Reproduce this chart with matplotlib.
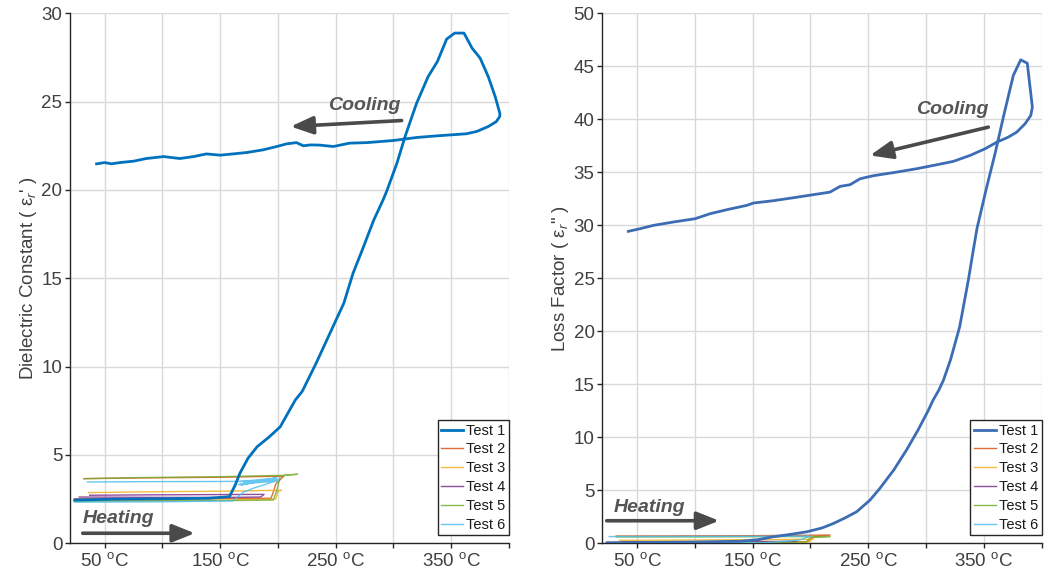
import matplotlib
matplotlib.use("Agg")
import matplotlib.pyplot as plt

plt.rcParams['font.family'] = ['Liberation Sans', 'DejaVu Sans']
plt.rcParams['mathtext.fontset'] = 'custom'
plt.rcParams['mathtext.rm'] = 'Liberation Sans'
plt.rcParams['mathtext.it'] = 'Liberation Sans:italic'
plt.rcParams['mathtext.bf'] = 'Liberation Sans:bold'

# ---------------- Dielectric constant (eps_r') ----------------
dc_t1_temp = [24, 60, 100, 140, 158, 163, 167, 174, 182, 192, 202, 208, 215, 221, 233, 249, 257,
              265, 273, 283, 291, 294, 303, 310, 320, 330, 338, 346, 353, 361, 368, 375, 382,
              388, 392, 392,
              389, 382, 372, 363, 350, 337, 320, 300, 277, 262, 248, 236, 228, 222, 216, 207.5,
              199, 187, 173, 161, 150, 138, 127, 115, 101, 86, 75, 63, 56, 50, 43]
dc_t1_val = [2.45, 2.5, 2.52, 2.55, 2.64, 3.3, 3.96, 4.81, 5.47, 6.0, 6.6, 7.3, 8.11, 8.6, 10.19,
             12.46, 13.59, 15.29, 16.61, 18.31, 19.44, 19.91, 21.52, 23.02, 24.91, 26.42, 27.27,
             28.54, 28.88, 28.88, 28.03, 27.46, 26.42, 25.29, 24.35, 24.16,
             23.87, 23.59, 23.31, 23.18, 23.12, 23.06, 22.97, 22.80, 22.68, 22.65, 22.46, 22.54,
             22.55, 22.50, 22.68, 22.61, 22.46, 22.27, 22.12, 22.04, 21.97, 22.04, 21.89, 21.78,
             21.89, 21.78, 21.63, 21.55, 21.48, 21.55, 21.48]

dc_t2_temp = [24, 100, 160, 194, 196, 198, 205, 150, 80, 32]
dc_t2_val = [2.52, 2.53, 2.54, 2.55, 2.9, 3.35, 3.8, 3.74, 3.7, 3.66]

dc_t3_temp = [25, 100, 160, 198, 200, 203, 150, 80, 36]
dc_t3_val = [2.42, 2.44, 2.46, 2.5, 2.95, 3.0, 2.95, 2.91, 2.87]

dc_t4_temp = [28, 100, 160, 185, 188, 150, 80, 37]
dc_t4_val = [2.62, 2.6, 2.6, 2.62, 2.77, 2.76, 2.74, 2.72]

dc_t5_temp = [24, 100, 160, 196, 199, 202, 210, 217, 205, 150, 80, 32]
dc_t5_val = [2.38, 2.4, 2.42, 2.45, 3.0, 3.8, 3.88, 3.91, 3.85, 3.77, 3.72, 3.66]

dc_t6_temp = [24, 100, 161, 170, 180, 190, 200, 198, 170, 197, 168, 196, 172, 199, 166, 195,
              170, 200, 167, 198, 171, 200, 150, 80, 35]
dc_t6_val = [2.33, 2.35, 2.4, 2.9, 3.15, 3.35, 3.58, 3.7, 3.35, 3.68, 3.3, 3.66, 3.36, 3.7, 3.32,
             3.64, 3.4, 3.6, 3.5, 3.69, 3.38, 3.52, 3.5, 3.49, 3.47]

# ---------------- Loss factor (eps_r'') ----------------
lf_t1_temp = [24, 60, 100, 140, 155, 168, 183, 197, 210, 220, 230, 240, 251.5, 260, 272, 283,
              293, 302, 306, 311, 315, 321, 329, 336.5, 340.8, 344, 352.4, 359.6, 366.8,
              375.4, 381.8, 387.5, 389.9, 391.9, 390.5,
              385.6, 378.4, 371.1, 361.1, 351, 338, 323.5, 309.2, 291.9, 274.6, 254.4, 242.9,
              234.2, 225.6, 216.9, 202.5, 185.2, 167.9, 150.6, 144.9, 127.6, 113.1, 100.2, 81.4,
              64.1, 52.6, 42.5]
lf_t1_val = [0.05, 0.08, 0.12, 0.2, 0.35, 0.62, 0.85, 1.09, 1.45, 1.88, 2.4, 2.98, 4.08, 5.18,
             6.91, 8.79, 10.68, 12.56, 13.5, 14.45, 15.39, 17.27, 20.41, 24.81, 27.64, 29.7,
             33.6, 36.75, 40.2, 44.13, 45.61, 45.29, 43.03, 41.14, 40.36,
             39.58, 38.79, 38.32, 37.84, 37.22, 36.59, 36.03, 35.71, 35.34, 35.02, 34.68, 34.39,
             33.83, 33.67, 33.13, 32.89, 32.6, 32.32, 32.1, 31.88, 31.47, 31.09, 30.62, 30.31,
             29.99, 29.68, 29.43]

lf_t2_temp = [24, 100, 160, 198, 203, 217, 150, 80, 32]
lf_t2_val = [0.1, 0.1, 0.12, 0.15, 0.6, 0.78, 0.72, 0.7, 0.69]

lf_t3_temp = [35, 100, 160, 196, 200, 202, 150, 80, 35]
lf_t3_val = [0.05, 0.06, 0.08, 0.1, 0.3, 0.38, 0.34, 0.3, 0.28]

lf_t4_temp = [28, 100, 160, 185, 188, 150, 80, 37]
lf_t4_val = [0.05, 0.06, 0.08, 0.1, 0.18, 0.16, 0.15, 0.14]

lf_t5_temp = [24, 100, 160, 196, 200, 217, 150, 80, 32]
lf_t5_val = [0.04, 0.05, 0.07, 0.1, 0.55, 0.64, 0.62, 0.6, 0.6]

lf_t6_temp = [24, 100, 160, 190, 200, 150, 80, 26]
lf_t6_val = [0.02, 0.03, 0.05, 0.3, 0.68, 0.66, 0.65, 0.64]

test_labels = ['Test 1', 'Test 2', 'Test 3', 'Test 4', 'Test 5', 'Test 6']
test_colors = ['#0072BD', '#D95319', '#EDB120', '#7E2F8E', '#77AC30', '#4DBEEE']
test1_color_lf = '#3C6DB4'

x_ticks = [50, 100, 150, 200, 250, 300, 350, 400]
x_ticklabels = [r'50 $^{\rm o}$C', '', r'150 $^{\rm o}$C', '', r'250 $^{\rm o}$C', '',
                r'350 $^{\rm o}$C', '']

TEXT = '#404040'
AXC = '#262626'
ARROW = '#4a4a4a'

fig = plt.figure(figsize=(10.53, 5.73), dpi=100)
ax1 = fig.add_axes([0.0665, 0.0518, 0.4169, 0.925])
ax2 = fig.add_axes([0.5720, 0.0518, 0.4173, 0.925])


def style_axes(ax, ylim, yticks):
    ax.set_xlim(20, 400)
    ax.set_ylim(*ylim)
    ax.set_xticks(x_ticks)
    ax.set_xticklabels(x_ticklabels)
    ax.set_yticks(yticks)
    ax.grid(True, color='#d9d9d9', linewidth=1.0)
    ax.set_axisbelow(True)
    for s in ('top', 'right'):
        ax.spines[s].set_visible(False)
    for s in ('left', 'bottom'):
        ax.spines[s].set_color(AXC)
        ax.spines[s].set_linewidth(1.0)
    ax.tick_params(axis='both', direction='out', length=3.5, width=1.0, color=AXC,
                   labelcolor=TEXT, labelsize=13.5)
    ax.tick_params(axis='x', pad=3)
    ax.tick_params(axis='y', pad=2)


def draw_tests(ax, series, c1):
    cols = [c1] + test_colors[1:]
    handles = []
    for i, (tx, vy) in enumerate(series):
        if i == 0:
            h, = ax.plot(tx, vy, color=cols[i], lw=2.0, zorder=5, label=test_labels[i])
        else:
            h, = ax.plot(tx, vy, color=cols[i], lw=1.0, alpha=0.85, zorder=3,
                         label=test_labels[i])
        handles.append(h)
    leg = ax.legend(handles=handles, loc='lower right', bbox_to_anchor=(1.0, 0.015),
                    borderaxespad=0.0, fontsize=10.5, frameon=True, fancybox=False,
                    framealpha=1.0, edgecolor=AXC, borderpad=0.25, labelspacing=0.33,
                    handlelength=1.5, handletextpad=0.2)
    leg.get_frame().set_linewidth(1.0)
    for t in leg.get_texts():
        t.set_color('#1a1a1a')
    return leg


def arrow(ax, tail, head):
    ax.annotate('', xy=head, xytext=tail,
                arrowprops=dict(arrowstyle='-|>,head_length=0.5,head_width=0.2',
                                color=ARROW, lw=2.6, mutation_scale=27,
                                shrinkA=0, shrinkB=0), zorder=6)


# left panel
style_axes(ax1, (0, 30), [0, 5, 10, 15, 20, 25, 30])
draw_tests(ax1, [(dc_t1_temp, dc_t1_val), (dc_t2_temp, dc_t2_val), (dc_t3_temp, dc_t3_val),
                 (dc_t4_temp, dc_t4_val), (dc_t5_temp, dc_t5_val), (dc_t6_temp, dc_t6_val)],
           test_colors[0])
ax1.set_ylabel("Dielectric Constant ( ε$_{r}$' )", fontsize=13.5, color=TEXT, labelpad=2)
ax1.text(306, 24.8, 'Cooling', ha='right', va='center', fontsize=14, fontweight='bold',
         fontstyle='italic', color='#555555')
arrow(ax1, (307, 23.93), (211, 23.59))
ax1.text(31.3, 1.38, 'Heating', ha='left', va='center', fontsize=14, fontweight='bold',
         fontstyle='italic', color='#555555')
arrow(ax1, (31, 0.57), (128, 0.57))

# right panel
style_axes(ax2, (0, 50), [0, 5, 10, 15, 20, 25, 30, 35, 40, 45, 50])
draw_tests(ax2, [(lf_t1_temp, lf_t1_val), (lf_t2_temp, lf_t2_val), (lf_t3_temp, lf_t3_val),
                 (lf_t4_temp, lf_t4_val), (lf_t5_temp, lf_t5_val), (lf_t6_temp, lf_t6_val)],
           test1_color_lf)
ax2.set_ylabel('Loss Factor ( ε$_{r}$" )', fontsize=13.5, color=TEXT, labelpad=2)
ax2.text(353.6, 40.97, 'Cooling', ha='right', va='center', fontsize=14, fontweight='bold',
         fontstyle='italic', color='#555555')
arrow(ax2, (353.8, 39.26), (251.5, 36.59))
ax2.text(30.1, 3.37, 'Heating', ha='left', va='center', fontsize=14, fontweight='bold',
         fontstyle='italic', color='#555555')
arrow(ax2, (23.8, 2.13), (121, 2.13))

fig.savefig('out.png', dpi=100)
